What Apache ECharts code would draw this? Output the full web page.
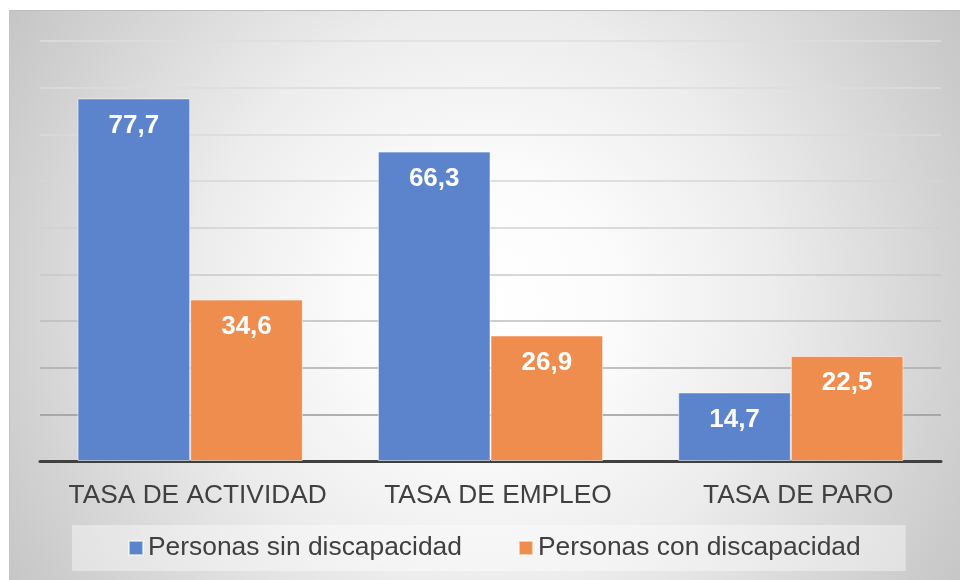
<!DOCTYPE html>
<html>
<head>
<meta charset="utf-8">
<script src="https://cdn.jsdelivr.net/npm/echarts@6/dist/echarts.min.js"></script>
<style>
  html, body { margin: 0; padding: 0; background: #ffffff; }
  #wrap { position: relative; width: 960px; height: 580px; overflow: hidden; }
  #bg {
    position: absolute; left: 9px; top: 10px; width: 951px; height: 570px;
    box-sizing: border-box; border-top: 1px solid #bdbdbd; border-left: 1px solid #c4c4c4;
    background: radial-gradient(circle 600px at 475px 290px, #ffffff 0%, #fcfcfc 20%, #ededed 47%, #d1d1d1 79%, #c6c6c6 92%, #c2c2c2 100%);
  }
  #chart { position: absolute; left: 0; top: 0; width: 960px; height: 580px; }
</style>
</head>
<body>
<div id="wrap">
  <div id="bg"></div>
  <div id="chart"></div>
</div>
<script>
const categories = ['TASA DE ACTIVIDAD', 'TASA DE EMPLEO', 'TASA DE PARO'];
const seriesNames = ['Personas sin discapacidad', 'Personas con discapacidad'];
const sinDiscapacidad = [77.7, 66.3, 14.7];
const conDiscapacidad = [34.6, 26.9, 22.5];
const gridLineColors = ['#7a7a7a', '#999999', '#ababab', '#bcbcbc', '#c8c8c8', '#d0d0d0', '#d6d6d6', '#dadada', '#dcdcdc', '#dedede'];

const chart = echarts.init(document.getElementById('chart'), null, { renderer: 'canvas' });

const labelOpt = {
  show: true,
  position: 'insideTop',
  distance: 14,
  color: '#ffffff',
  fontSize: 26,
  fontWeight: 'bold',
  fontFamily: 'Liberation Sans, Arial, sans-serif',
  formatter: p => String(p.value).replace('.', ',')
};

chart.setOption({
  backgroundColor: 'transparent',
  animation: false,
  textStyle: { fontFamily: 'Liberation Sans, Arial, sans-serif' },
  grid: { left: 40, right: 19, top: 41, bottom: 119, containLabel: false },
  legend: {
    data: seriesNames,
    left: 72,
    top: 525,
    padding: [10, 45, 10, 56],
    backgroundColor: 'rgba(255,255,255,0.4)',
    itemWidth: 14,
    itemHeight: 14,
    itemGap: 56,
    icon: 'rect',
    textStyle: { fontSize: 26.4, color: '#404040', fontFamily: 'Liberation Sans, Arial, sans-serif' }
  },
  xAxis: {
    type: 'category',
    data: categories,
    axisLine: { show: true, lineStyle: { color: '#404040', width: 3 } },
    axisTick: { show: false },
    axisLabel: {
      interval: 0,
      fontSize: 26.3,
      color: '#404040',
      margin: 22,
      padding: [0, 0, 0, 15],
      fontFamily: 'Liberation Sans, Arial, sans-serif'
    }
  },
  yAxis: {
    type: 'value',
    min: 0,
    max: 90,
    interval: 10,
    axisLabel: { show: false },
    axisLine: { show: false },
    axisTick: { show: false },
    splitLine: { show: true, lineStyle: { color: gridLineColors, width: 1.5 } }
  },
  series: [
    {
      name: seriesNames[0],
      type: 'bar',
      data: sinDiscapacidad,
      barGap: '0%',
      barCategoryGap: '25%',
      itemStyle: { color: '#5b84cc', borderColor: 'rgba(255,255,255,0.55)', borderWidth: 1 },
      label: labelOpt
    },
    {
      name: seriesNames[1],
      type: 'bar',
      data: conDiscapacidad,
      barGap: '0%',
      barCategoryGap: '25%',
      itemStyle: { color: '#ee8d4e', borderColor: 'rgba(255,255,255,0.55)', borderWidth: 1 },
      label: labelOpt
    }
  ]
});
</script>
</body>
</html>
